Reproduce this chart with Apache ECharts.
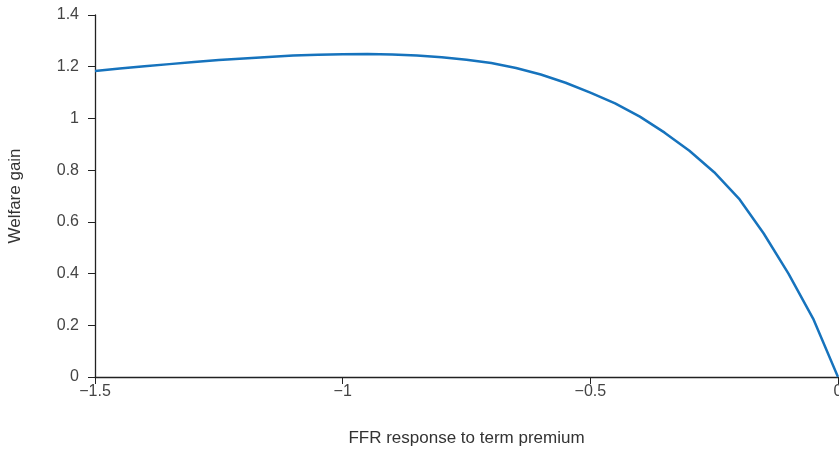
<!DOCTYPE html>
<html>
<head>
<meta charset="utf-8">
<script src="https://cdn.jsdelivr.net/npm/echarts@6/dist/echarts.min.js"></script>
<style>
  html, body { margin: 0; padding: 0; background: #fff; }
  #chart { width: 839px; height: 451px; }
</style>
</head>
<body>
<div id="chart"></div>
<script>
// FFR response to term premium (x) and welfare gain (y)
var xValues = [-1.5, -1.45, -1.4, -1.35, -1.3, -1.25, -1.2, -1.15, -1.1, -1.05,
               -1.0, -0.95, -0.9, -0.85, -0.8, -0.75, -0.7, -0.65, -0.6, -0.55,
               -0.5, -0.45, -0.4, -0.35, -0.3, -0.25, -0.2, -0.15, -0.1, -0.05, 0];
var welfareGain = [1.183, 1.193, 1.202, 1.210, 1.218, 1.226, 1.232, 1.238, 1.243, 1.246,
                   1.248, 1.249, 1.247, 1.243, 1.237, 1.227, 1.214, 1.195, 1.170, 1.138,
                   1.100, 1.058, 1.007, 0.945, 0.875, 0.792, 0.690, 0.555, 0.400, 0.225, 0];
var xTicks = [-1.5, -1, -0.5, 0];
var yTicks = [0, 0.2, 0.4, 0.6, 0.8, 1, 1.2, 1.4];

var fmt = function (v) {
  return String(v).replace('-', '\u2212');
};

var chart = echarts.init(document.getElementById('chart'));
var points = xValues.map(function (x, i) { return [x, welfareGain[i]]; });

chart.setOption({
  animation: false,
  textStyle: { fontFamily: 'Liberation Sans, Arial, sans-serif' },
  grid: { left: 95, right: 1, top: 15, bottom: 74, containLabel: false, outerBoundsMode: 'none' },
  xAxis: {
    type: 'value',
    min: -1.5,
    max: 0,
    interval: 0.5,
    name: 'FFR response to term premium',
    nameLocation: 'middle',
    nameGap: 53,
    nameTextStyle: { fontSize: 17, color: '#333' },
    axisLine: { show: true, onZero: false, lineStyle: { color: '#222', width: 1.3 } },
    axisTick: { show: true, length: 7, lineStyle: { color: '#222' } },
    axisLabel: {
      fontSize: 16, color: '#444', margin: 7,
      formatter: function (v) { return xTicks.indexOf(v) >= 0 ? fmt(v) : ''; }
    },
    splitLine: { show: false }
  },
  yAxis: {
    type: 'value',
    min: 0,
    max: 1.4,
    interval: 0.2,
    name: 'Welfare gain',
    nameLocation: 'middle',
    nameGap: 71,
    nameTextStyle: { fontSize: 17, color: '#333' },
    axisLine: { show: true, onZero: false, lineStyle: { color: '#222', width: 1.3 } },
    axisTick: { show: true, length: 7, lineStyle: { color: '#222' } },
    axisLabel: {
      fontSize: 16, color: '#444', margin: 16,
      formatter: function (v) {
        var r = Math.round(v * 10) / 10;
        return yTicks.indexOf(r) >= 0 ? String(r) : '';
      }
    },
    splitLine: { show: false }
  },
  series: [{
    type: 'line',
    data: points,
    showSymbol: false,
    smooth: false,
    lineStyle: { color: '#1673bd', width: 2.5 },
    clip: false
  }]
});
</script>
</body>
</html>
